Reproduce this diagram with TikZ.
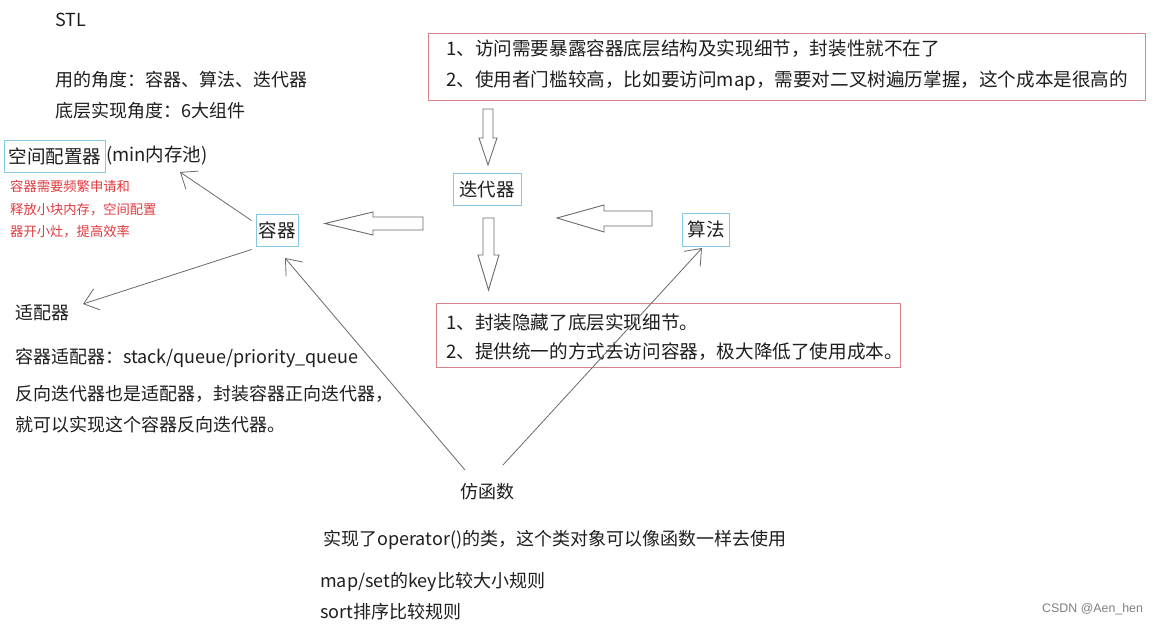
\documentclass[tikz,border=0pt]{standalone}
\usepackage{fontspec}
\setmainfont{Noto Sans CJK SC}
\newfontfamily\wmfont{Liberation Sans}
\usetikzlibrary{arrows.meta}
\definecolor{txt}{HTML}{1E1E1E}
\definecolor{bluebox}{HTML}{86C8E4}
\definecolor{redbox}{HTML}{D8868C}
\definecolor{rednote}{HTML}{E23A40}
\definecolor{arrowgray}{HTML}{6A6A6A}
\tikzset{
  txtnode/.style={inner sep=0pt, anchor=west, text=txt, font=\fontsize{18}{22}\selectfont},
  boxtxt/.style={inner sep=0pt, anchor=west, text=txt, font=\fontsize{18.6}{22}\selectfont},
  notetxt/.style={inner sep=0pt, anchor=west, text=rednote, font=\fontsize{13.3}{16}\selectfont},
  compbox/.style={draw=bluebox, line width=1pt, inner sep=0pt, text=txt, font=\fontsize{18.5}{22}\selectfont},
  framebox/.style={draw=redbox, line width=1.1pt, inner sep=0pt, anchor=north west},
  conn/.style={draw=arrowgray, line width=0.8pt, -{Straight Barb[length=14pt,width=22pt,line width=0.8pt]}},
  blockarrow/.style={draw=arrowgray, line width=0.9pt, fill=white, line join=miter}
}
\begin{document}
\begin{tikzpicture}[x=1pt,y=-1pt]
\useasboundingbox[fill=white] (0,0) rectangle (1158,624);

% left header texts
\node[txtnode] (stl) at (55,20) {STL};
\node[txtnode] (use) at (55,80) {用的角度：容器、算法、迭代器};
\node[txtnode] (impl) at (55,111) {底层实现角度：6大组件};

% allocator
\node[compbox, anchor=west, minimum width=101, minimum height=32] (alloc) at (4,156) {空间配置器};
\node[inner sep=0pt, anchor=west, text=txt, font=\fontsize{18.5}{22}\selectfont] (allocx) at (alloc.east) {(min内存池)};
\node[notetxt] (note1) at (10,186) {容器需要频繁申请和};
\node[notetxt] (note2) at (10,210) {释放小块内存，空间配置};
\node[notetxt] (note3) at (10,232) {器开小灶，提高效率};

% component boxes
\node[compbox, minimum width=42, minimum height=32] (cont) at (277,230) {容器};
\node[compbox, minimum width=68, minimum height=32] (iter) at (487,189) {迭代器};
\node[compbox, minimum width=47, minimum height=33] (algo) at (706,229.5) {算法};

% top red box
\node[framebox, minimum width=717, minimum height=67] (topbox) at (428,33) {};
\node[boxtxt] (top1) at (446,49) {1、访问需要暴露容器底层结构及实现细节，封装性就不在了};
\node[boxtxt] (top2) at (446,81) {2、使用者门槛较高，比如要访问map，需要对二叉树遍历掌握，这个成本是很高的};

% lower red box
\node[framebox, minimum width=464, minimum height=64] (lowbox) at (436,303) {};
\node[boxtxt] (low1) at (446,322) {1、封装隐藏了底层实现细节。};
\node[boxtxt] (low2) at (446,352) {2、提供统一的方式去访问容器，极大降低了使用成本。};

% adapters
\node[txtnode] (adapt) at (15,313) {适配器};
\node[txtnode] (adapt1) at (15,358) {容器适配器：stack/queue/priority\_queue};
\node[txtnode] (adapt2) at (15,394) {反向迭代器也是适配器，封装容器正向迭代器，};
\node[txtnode] (adapt3) at (15,425) {就可以实现这个容器反向迭代器。};

% functor
\node[txtnode] (func) at (460,492) {仿函数};
\node[txtnode] (func1) at (323,540) {实现了operator()的类，这个类对象可以像函数一样去使用};
\node[txtnode] (func2) at (320,582) {map/set的key比较大小规则};
\node[txtnode] (func3) at (320,612) {sort排序比较规则};

% watermark
\node[inner sep=0pt, anchor=west, text=black!50, font=\wmfont\fontsize{12.4}{14}\selectfont] (wm) at (1042,609) {CSDN @Aen\_hen};

% thin connectors
\coordinate (allocTip) at (180,172);
\coordinate (adaptTip) at (83,304);
\coordinate (contTip) at (285,258);
\coordinate (algoTip) at (702,248);
\coordinate (contA) at ([shift={(-4,7)}]cont.north west);
\coordinate (contB) at ([shift={(-4,3)}]cont.south west);
\coordinate (funcA) at (465,470);
\coordinate (funcB) at (503,465);
\draw[conn] (contA) -- (allocTip);
\draw[conn] (contB) -- (adaptTip);
\draw[conn] (funcA) -- (contTip);
\draw[conn] (funcB) -- (algoTip);

% block arrows
\draw[blockarrow] (483,109) -- (493,109) -- (493,138) -- (497,138) -- (488,165) -- (479,138) -- (483,138) -- cycle;
\draw[blockarrow] (483,218) -- (494,218) -- (494,255) -- (499,255) -- (488.5,290) -- (478,255) -- (483,255) -- cycle;
\draw[blockarrow] (423,217) -- (373,217) -- (373,212) -- (325,223.5) -- (373,235) -- (373,230) -- (423,230) -- cycle;
\draw[blockarrow] (652,211) -- (604,211) -- (604,205) -- (557,218) -- (604,232) -- (604,226) -- (652,226) -- cycle;
\end{tikzpicture}
\end{document}
